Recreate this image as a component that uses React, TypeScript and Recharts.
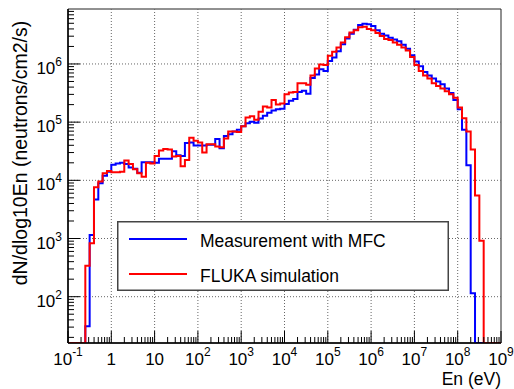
import React from 'react';
import { LineChart, Line, XAxis, YAxis, ReferenceLine, ReferenceArea, Legend } from 'recharts';

const FONT = '"Liberation Sans", Arial, Helvetica, sans-serif';

// Energy binning: 10 logarithmic bins per decade, 0.1 eV .. 1 GeV
const LOG_E_MIN = -1;
const LOG_E_MAX = 9;
const BINS_PER_DECADE = 10;

// Flux axis range (neutrons/cm2/s per unit log10 En)
const Y_MIN = 16;
const Y_MAX = 8.8e6;

// Tick decades
const xDecades = [-1, 0, 1, 2, 3, 4, 5, 6, 7, 8, 9];
const yDecades = [1, 2, 3, 4, 5, 6];

// Measurement with MFC, one value per bin (0 = empty bin)
const measuredFlux = [
  0, 0, 0, 0, 31, 1150, 4700, 8900, 12000, 14100,
  18600, 19500, 20000, 19100, 16600, 15800, 13500, 20400, 20400, 20400,
  20000, 23400, 23400, 23400, 31600, 26900, 26300, 43700, 44700, 39800,
  39800, 39800, 40700, 40700, 51300, 35500, 57500, 61700, 69200, 74100,
  85100, 95500, 102000, 97700, 115000, 129000, 145000, 158000, 166000, 170000,
  204000, 234000, 251000, 331000, 347000, 309000, 575000, 661000, 813000, 759000,
  1120000, 1290000, 1660000, 2190000, 2750000, 3310000, 3890000, 4680000, 4900000, 4790000,
  4470000, 3800000, 3310000, 3090000, 2820000, 2630000, 2450000, 2140000, 1820000, 1410000,
  1100000, 912000, 724000, 631000, 562000, 501000, 447000, 380000, 316000, 240000,
  166000, 74100, 18200, 115, 0, 0, 0, 0, 0, 0,
];

// FLUKA simulation, one value per bin (0 = empty bin)
const flukaFlux = [
  0, 0, 0, 0, 340, 830, 7600, 9550, 13200, 14500,
  13800, 13800, 14100, 21900, 19100, 15500, 13200, 11500, 20000, 19500,
  26300, 32400, 34700, 33900, 25700, 26300, 17400, 22400, 53700, 47900,
  44700, 30200, 41700, 41700, 38000, 37200, 52500, 69200, 69200, 67600,
  85100, 120000, 126000, 110000, 151000, 186000, 178000, 240000, 200000, 209000,
  302000, 324000, 331000, 468000, 468000, 437000, 631000, 832000, 977000, 955000,
  1380000, 1620000, 1910000, 2340000, 2880000, 3470000, 3800000, 4270000, 4370000, 3980000,
  3800000, 3390000, 3020000, 2690000, 2570000, 2340000, 2140000, 1910000, 1700000, 1320000,
  955000, 759000, 631000, 562000, 468000, 417000, 380000, 339000, 302000, 263000,
  178000, 117000, 69200, 33900, 5500, 912, 0, 0, 0, 0,
];

const seriesNames = ['Measurement with MFC', 'FLUKA simulation'];
const seriesColors = ['#0000ff', '#ff0000'];

// Empty bins sit on the lower edge of the frame, as in a ROOT histogram
const floorValue = (v: number) => (v > 0 ? v : Y_MIN);

const nBins = measuredFlux.length;
const chartData = Array.from({ length: nBins + 1 }, (_, i) => {
  const k = Math.min(i, nBins - 1);
  return {
    e: Math.pow(10, LOG_E_MIN + i / BINS_PER_DECADE),
    mfc: floorValue(measuredFlux[k]),
    fluka: floorValue(flukaFlux[k]),
  };
});

const decadeTicks = (decades: number[], lo: number, hi: number) => {
  const out: number[] = [];
  decades.forEach((n) => {
    for (let m = 1; m <= 9; m++) {
      const v = m * Math.pow(10, n);
      if (v >= lo * 0.999999 && v <= hi * 1.000001) out.push(v);
    }
  });
  return out;
};

const xTicks = decadeTicks(xDecades, Math.pow(10, LOG_E_MIN), Math.pow(10, LOG_E_MAX));
const yTicks = decadeTicks(yDecades, Y_MIN, Y_MAX);

const decadeOf = (v: number) => {
  const lg = Math.log10(v);
  const exp = Math.round(lg);
  return { exp, major: Math.abs(lg - exp) < 1e-6 };
};

const XTick = (props: any) => {
  const { x, y, payload } = props;
  const { exp, major } = decadeOf(payload.value);
  let label: React.ReactNode = null;
  if (major) {
    label = (
      <text x={x} y={y + 22} textAnchor="middle" fontFamily={FONT} fontSize={17} fill="#000">
        {exp === 0 ? '1' : '10'}
        {exp !== 0 && exp !== 1 ? (
          <tspan dy={-9} fontSize={12}>{exp}</tspan>
        ) : null}
      </text>
    );
  }
  return (
    <g>
      <line x1={x} x2={x} y1={y} y2={y - (major ? 12 : 6)} stroke="#000" strokeWidth={1} />
      {label}
    </g>
  );
};

const YTick = (props: any) => {
  const { x, y, payload } = props;
  const { exp, major } = decadeOf(payload.value);
  return (
    <g>
      <line x1={x} x2={x + (major ? 12 : 6)} y1={y} y2={y} stroke="#000" strokeWidth={1} />
      {major ? (
        <text x={x - 6} y={y + 10} textAnchor="end" fontFamily={FONT} fontSize={17} fill="#000">
          10
          <tspan dy={-8} fontSize={12}>{exp}</tspan>
        </text>
      ) : null}
    </g>
  );
};

const LegendBox = () => (
  <svg width={332} height={70} style={{ display: 'block' }}>
    <rect x={0.75} y={0.75} width={330.5} height={68.5} fill="#fff" stroke="#444" strokeWidth={1.5} />
    {seriesNames.map((name, i) => (
      <g key={name}>
        <line x1={12} x2={70} y1={18 + i * 35} y2={18 + i * 35} stroke={seriesColors[i]} strokeWidth={2} />
        <text x={83} y={26 + i * 35} fontFamily={FONT} fontSize={17.5} fill="#000">
          {name}
        </text>
      </g>
    ))}
  </svg>
);

export default function App() {
  return (
    <div style={{ position: 'absolute', left: 0, top: 0, width: 514, height: 389, background: '#fff' }}>
      <LineChart
        width={514}
        height={389}
        data={chartData}
        margin={{ top: 9, right: 13, bottom: 16, left: 8 }}
      >
        <XAxis
          dataKey="e"
          type="number"
          scale="log"
          domain={[Math.pow(10, LOG_E_MIN), Math.pow(10, LOG_E_MAX)]}
          allowDataOverflow
          ticks={xTicks}
          interval={0}
          tick={(p: any) => <XTick {...p} />}
          tickLine={false}
          tickSize={0}
          tickMargin={0}
          height={30}
          axisLine={{ stroke: '#000', strokeWidth: 1.5 }}
          label={() => (
            <text x={501} y={385} textAnchor="end" fontFamily={FONT} fontSize={17.5} fill="#000">
              En (eV)
            </text>
          )}
        />
        <YAxis
          type="number"
          scale="log"
          domain={[Y_MIN, Y_MAX]}
          allowDataOverflow
          ticks={yTicks}
          interval={0}
          tick={(p: any) => <YTick {...p} />}
          tickLine={false}
          tickSize={0}
          tickMargin={0}
          width={60}
          axisLine={{ stroke: '#000', strokeWidth: 1.5 }}
          label={() => (
            <text
              x={0}
              y={0}
              transform="translate(27,153) rotate(-90)"
              textAnchor="middle"
              fontFamily={FONT}
              fontSize={19.5}
              fill="#000"
            >
              dN/dlog10En (neutrons/cm2/s)
            </text>
          )}
        />
        {xDecades.slice(1, -1).map((n) => (
          <ReferenceLine key={'gx' + n} x={Math.pow(10, n)} stroke="#666" strokeWidth={1} strokeDasharray="1 2" />
        ))}
        {yDecades.slice(1).map((n) => (
          <ReferenceLine key={'gy' + n} y={Math.pow(10, n)} stroke="#666" strokeWidth={1} strokeDasharray="1 2" />
        ))}
        <ReferenceArea
          x1={Math.pow(10, LOG_E_MIN)}
          x2={Math.pow(10, LOG_E_MAX)}
          y1={Y_MIN}
          y2={Y_MAX}
          fill="none"
          fillOpacity={0}
          stroke="#222"
          strokeWidth={1}
        />
        <Line
          type="stepAfter"
          dataKey="mfc"
          name={seriesNames[0]}
          stroke={seriesColors[0]}
          strokeWidth={2}
          dot={false}
          isAnimationActive={false}
        />
        <Line
          type="stepAfter"
          dataKey="fluka"
          name={seriesNames[1]}
          stroke={seriesColors[1]}
          strokeWidth={2}
          dot={false}
          isAnimationActive={false}
        />
        <Legend
          layout="horizontal"
          verticalAlign="middle"
          align="center"
          wrapperStyle={{ position: 'absolute', left: 117, top: 221, width: 332, height: 70 }}
          content={() => <LegendBox />}
        />
      </LineChart>
    </div>
  );
}
